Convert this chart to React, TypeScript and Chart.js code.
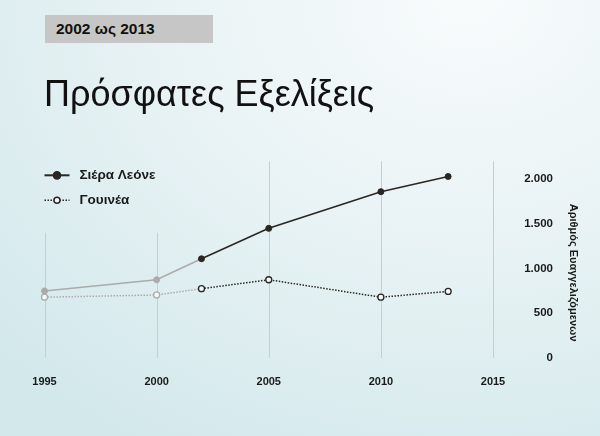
import React, { useEffect, useRef } from "react";
import { Chart, registerables } from "chart.js";

Chart.register(...registerables);

const years = [1995, 2000, 2002, 2005, 2010, 2013];
const sierraLeone = [750, 875, 1110, 1450, 1860, 2030];
const guinea = [680, 705, 775, 875, 680, 745];
const seriesNames = ["Σιέρα Λεόνε", "Γουινέα"];
const yTicks = [0, 500, 1000, 1500, 2000];
const xTicks = [1995, 2000, 2005, 2010, 2015];
const yTitle = "Αριθμός Ευαγγελιζόμενων";
const headerText = "2002 ως 2013";
const titleText = "Πρόσφατες Εξελίξεις";
const highlightFrom = 2002;

const DARK = "#2a2622";
const GRAY = "#ababab";
const HOLLOW = "#f2f8f9";
const FONT = "'Liberation Sans', Arial, Helvetica, sans-serif";

function fmt(v: number): string {
  const s = String(Math.round(v));
  return s.replace(/\B(?=(\d{3})+(?!\d))/g, ".");
}

const gridPlugin = {
  id: "customGrid",
  beforeDatasetsDraw(chart: any) {
    const { ctx, chartArea, scales } = chart;
    const xs = scales.x;
    const ys = scales.y;
    ctx.save();
    ctx.strokeStyle = "#c9cdce";
    ctx.lineWidth = 1;
    xs.ticks.forEach((t: any) => {
      const x = Math.round(xs.getPixelForValue(t.value)) + 0.5;
      const top = t.value < highlightFrom ? ys.getPixelForValue(1400) : chartArea.top;
      ctx.beginPath();
      ctx.moveTo(x, top);
      ctx.lineTo(x, chartArea.bottom);
      ctx.stroke();
    });
    ctx.restore();
  },
};

const extrasPlugin = {
  id: "customExtras",
  afterDraw(chart: any) {
    const { ctx, chartArea } = chart;
    const x0 = chartArea.left;
    const rows = [chartArea.top + 14, chartArea.top + 39];
    ctx.save();
    chart.data.datasets.forEach((ds: any, i: number) => {
      const y = rows[i];
      ctx.strokeStyle = DARK;
      ctx.lineWidth = i === 0 ? 2 : 1.5;
      ctx.setLineDash(i === 0 ? [] : [1.5, 1.5]);
      ctx.beginPath();
      ctx.moveTo(x0, y);
      ctx.lineTo(x0 + 25, y);
      ctx.stroke();
      ctx.setLineDash([]);
      ctx.beginPath();
      ctx.arc(x0 + 12.5, y, i === 0 ? 3.6 : 3, 0, Math.PI * 2);
      ctx.fillStyle = i === 0 ? DARK : HOLLOW;
      ctx.fill();
      ctx.lineWidth = 1.5;
      ctx.stroke();
      ctx.fillStyle = "#1a1a1a";
      ctx.font = `bold 13.5px ${FONT}`;
      ctx.textBaseline = "middle";
      ctx.textAlign = "left";
      ctx.fillText(ds.label, x0 + 35, y);
    });
    // right axis title
    const tx = chartArea.right + 80;
    const ty = (chartArea.top + chartArea.bottom) / 2 + 13;
    ctx.translate(tx, ty);
    ctx.rotate(Math.PI / 2);
    ctx.fillStyle = "#1a1a1a";
    ctx.font = `bold 11px ${FONT}`;
    ctx.textAlign = "center";
    ctx.textBaseline = "middle";
    ctx.fillText(yTitle, 0, 0);
    ctx.restore();
  },
};

export default function App() {
  const ref = useRef<HTMLCanvasElement | null>(null);

  useEffect(() => {
    if (!ref.current) return;
    Chart.defaults.font.family = FONT;
    const segColor = (c: any) => (c.p1.parsed.x <= highlightFrom ? GRAY : DARK);
    const ptColor = (on: string, off: string) =>
      years.map((y) => (y < highlightFrom ? off : on));
    const chart = new Chart(ref.current, {
      type: "line",
      data: {
        datasets: [
          {
            label: seriesNames[0],
            data: years.map((y, i) => ({ x: y, y: sierraLeone[i] })),
            borderColor: DARK,
            borderWidth: 1.6,
            segment: { borderColor: segColor },
            pointRadius: 3,
            pointBorderWidth: 1,
            pointBackgroundColor: ptColor(DARK, GRAY),
            pointBorderColor: ptColor(DARK, GRAY),
            tension: 0,
          },
          {
            label: seriesNames[1],
            data: years.map((y, i) => ({ x: y, y: guinea[i] })),
            borderColor: DARK,
            borderWidth: 1.5,
            borderDash: [1.5, 1.5],
            segment: { borderColor: segColor },
            pointRadius: 3,
            pointBorderWidth: 1.3,
            pointBackgroundColor: HOLLOW,
            pointBorderColor: ptColor(DARK, GRAY),
            tension: 0,
          },
        ],
      },
      options: {
        responsive: false,
        animation: false,
        clip: false as any,
        layout: { padding: { left: 44.5, top: 161.3, right: 47, bottom: 30 } },
        plugins: { legend: { display: false }, tooltip: { enabled: false } },
        scales: {
          x: {
            type: "linear",
            min: xTicks[0],
            max: xTicks[xTicks.length - 1],
            afterBuildTicks: (axis: any) => {
              axis.ticks = xTicks.map((v) => ({ value: v }));
            },
            grid: { display: false, drawTicks: false },
            border: { display: false },
            ticks: {
              padding: 17.4,
              color: "#1a1a1a",
              font: { size: 11, weight: "bold" },
              callback: (v: any) => String(v),
            },
          },
          y: {
            position: "right",
            min: 0,
            max: 2200,
            afterBuildTicks: (axis: any) => {
              axis.ticks = yTicks.map((v) => ({ value: v }));
            },
            afterFit: (axis: any) => {
              axis.width = 60;
            },
            grid: { display: false, drawTicks: false },
            border: { display: false },
            ticks: {
              padding: 10,
              crossAlign: "far",
              color: "#1a1a1a",
              font: { size: 11.5, weight: "bold" },
              callback: (v: any) => fmt(Number(v)),
            },
          },
        },
      },
      plugins: [gridPlugin, extrasPlugin],
    });
    return () => chart.destroy();
  }, []);

  return (
    <div
      style={{
        position: "fixed",
        left: 0,
        top: 0,
        width: 600,
        height: 436,
        overflow: "hidden",
        background:
          "radial-gradient(ellipse 110% 120% at 78% 0%, #f8fbfc 0%, #e9f3f5 45%, #d2e8eb 100%)",
        fontFamily: FONT,
      }}
    >
      <div
        style={{
          position: "absolute",
          left: 45,
          top: 15,
          width: 168,
          height: 28,
          background: "#c6c6c6",
          color: "#111",
          fontWeight: "bold",
          fontSize: 15.5,
          lineHeight: "28px",
          paddingLeft: 11,
          boxSizing: "border-box",
          whiteSpace: "nowrap",
        }}
      >
        {headerText}
      </div>
      <div
        style={{
          position: "absolute",
          left: 44,
          top: 76,
          fontSize: 36,
          lineHeight: 1,
          color: "#111",
          whiteSpace: "nowrap",
        }}
      >
        {titleText}
      </div>
      <canvas
        ref={ref}
        width={600}
        height={436}
        style={{ position: "absolute", left: 0, top: 0, width: 600, height: 436 }}
      />
    </div>
  );
}
